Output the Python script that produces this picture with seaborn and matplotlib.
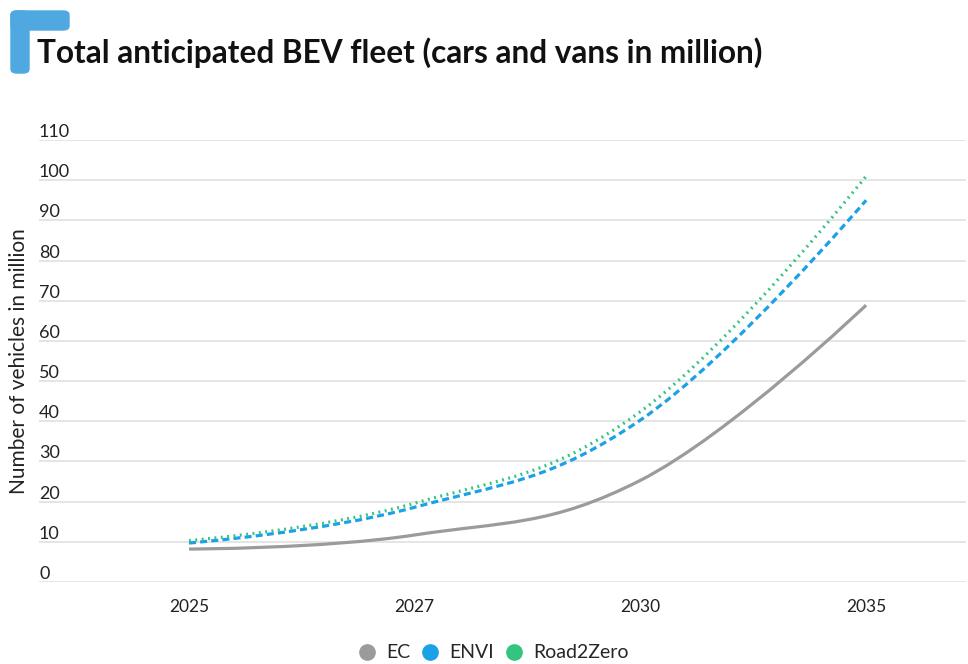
import numpy as np
import matplotlib
matplotlib.use("Agg")
import matplotlib.pyplot as plt
import matplotlib.transforms as mtransforms
from matplotlib.path import Path
from matplotlib.patches import PathPatch, FancyBboxPatch
from matplotlib.lines import Line2D
import seaborn as sns

# Datos
years = ["2025", "2027", "2030", "2035"]
ec = [8.2, 11.7, 25.3, 68.9]
envi = [9.7, 18.6, 40.3, 95.0]
road2zero = [10.3, 19.6, 42.4, 101.0]
y_ticks = [0, 10, 20, 30, 40, 50, 60, 70, 80, 90, 100, 110]

series_names = ["EC", "ENVI", "Road2Zero"]
colors = {"EC": "#9b9b9b", "ENVI": "#1ba1e6", "Road2Zero": "#33c47f"}
styles = {"EC": "-", "ENVI": (0, (2.2, 1.3)), "Road2Zero": (0, (0.6, 1.4))}

sns.set_theme(style="white")
plt.rcParams["font.family"] = ["Lato", "DejaVu Sans"]


def spline_path(xs, ys, smoothing=1.5):
    # curva suave tipo "spline" (puntos de control entre vecinos)
    n = len(xs)
    denom = smoothing + 1
    left = [(xs[i], ys[i]) for i in range(n)]
    right = [(xs[i], ys[i]) for i in range(n)]
    for i in range(1, n - 1):
        px, py = xs[i], ys[i]
        lx, ly = xs[i - 1], ys[i - 1]
        nx, ny = xs[i + 1], ys[i + 1]
        lcx = (smoothing * px + lx) / denom
        lcy = (smoothing * py + ly) / denom
        rcx = (smoothing * px + nx) / denom
        rcy = (smoothing * py + ny) / denom
        corr = ((rcy - lcy) * (rcx - px)) / (rcx - lcx) + py - rcy
        lcy += corr
        rcy += corr
        if lcy > ly and lcy > py:
            lcy = max(ly, py)
            rcy = 2 * py - lcy
        elif lcy < ly and lcy < py:
            lcy = min(ly, py)
            rcy = 2 * py - lcy
        if rcy > ny and rcy > py:
            rcy = max(ny, py)
            lcy = 2 * py - rcy
        elif rcy < ny and rcy < py:
            rcy = min(ny, py)
            lcy = 2 * py - rcy
        left[i] = (lcx, lcy)
        right[i] = (rcx, rcy)
    verts = [(xs[0], ys[0])]
    codes = [Path.MOVETO]
    for i in range(1, n):
        verts += [right[i - 1], left[i], (xs[i], ys[i])]
        codes += [Path.CURVE4] * 3
    return Path(verts, codes)


fig = plt.figure(figsize=(9.68, 6.64), dpi=100)
ax = fig.add_axes([39 / 968, 1 - 582 / 664, 927 / 968, 442 / 664])

x_pos = np.arange(len(years))
data = {"EC": ec, "ENVI": envi, "Road2Zero": road2zero}
for name in series_names:
    path = spline_path(x_pos, data[name])
    ax.add_patch(PathPatch(path, fill=False, edgecolor=colors[name],
                           linestyle=styles[name], linewidth=2.3,
                           capstyle="butt", zorder=3))

ax.set_xlim(-150 / 225.7, (966 - 189) / 225.7)
ax.set_ylim(0, 110)
ax.set_yticks(y_ticks)
ax.yaxis.grid(True, color="#dedede", linewidth=1.1)
ax.xaxis.grid(False)
ax.set_xticks(x_pos)
ax.set_xticklabels(years, fontsize=12.5, color="#222222")
ax.tick_params(axis="x", length=0, pad=12)
ax.tick_params(axis="y", length=0, labelleft=False)
for s in ax.spines.values():
    s.set_visible(False)

# etiquetas del eje y encima de las líneas
trans = mtransforms.blended_transform_factory(ax.transAxes, ax.transData)
for v in y_ticks:
    ax.text(0, v, str(v), transform=trans, ha="left", va="bottom",
            fontsize=13, color="#222222")
ax.text(-0.022, 0.5, "Number of vehicles in million", transform=ax.transAxes,
        rotation=90, ha="center", va="center", fontsize=15, color="#222222")

# título y logo
fig.text(37 / 968, 1 - 63 / 664, "Total anticipated BEV fleet (cars and vans in million)",
         fontsize=22.7, fontweight="bold", color="#111111", ha="left", va="baseline")
logo_color = "#4fa9e0"
fig.patches.append(FancyBboxPatch((11 / 968, 1 - 73 / 664), 18 / 968, 62 / 664,
                                  boxstyle="round,pad=0,rounding_size=0.006",
                                  transform=fig.transFigure, color=logo_color))
fig.patches.append(FancyBboxPatch((11 / 968, 1 - 30 / 664), 58 / 968, 19 / 664,
                                  boxstyle="round,pad=0,rounding_size=0.006",
                                  transform=fig.transFigure, color=logo_color))

# leyenda
handles = [Line2D([], [], marker="o", linestyle="", markersize=11,
                  markerfacecolor=colors[n], markeredgecolor=colors[n]) for n in series_names]
fig.legend(handles, series_names, loc="center", bbox_to_anchor=(493 / 968, 1 - 653 / 664),
           ncol=3, frameon=False, fontsize=14, handletextpad=0.5, columnspacing=0.5,
           handlelength=1.0)

fig.savefig("out.png", dpi=100)
